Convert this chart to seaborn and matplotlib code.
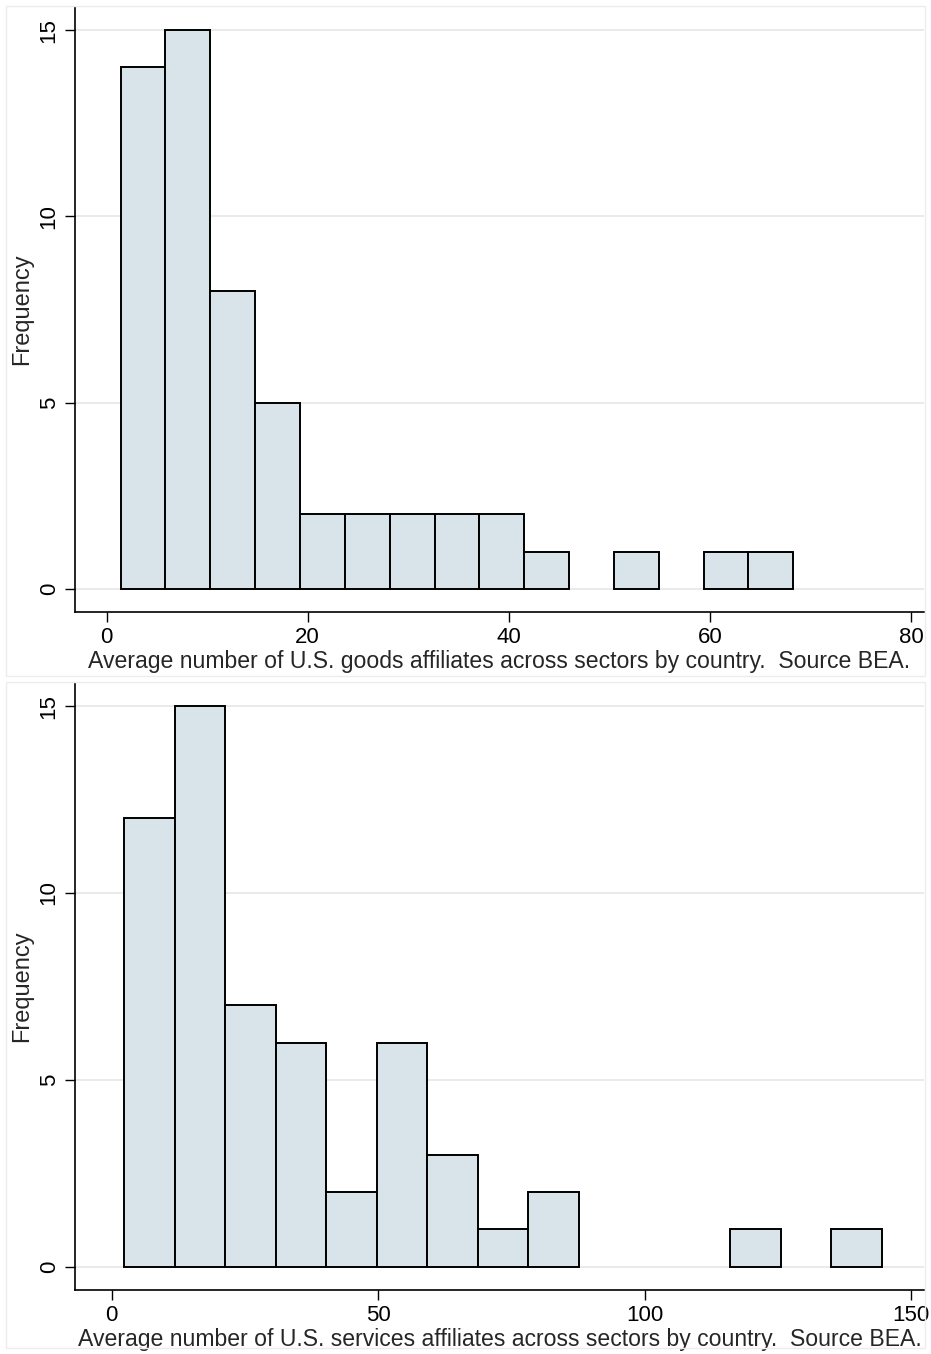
import numpy as np
import pandas as pd
import matplotlib
matplotlib.use("Agg")
import matplotlib.pyplot as plt
import seaborn as sns
from matplotlib.patches import Rectangle

# histogram data (15 bins each, n = 56)
goods_counts = [14, 15, 8, 5, 2, 2, 2, 2, 2, 1, 0, 1, 0, 1, 1]
goods_start, goods_end = 1.39, 68.3
services_counts = [12, 15, 7, 6, 2, 6, 3, 1, 2, 0, 0, 0, 1, 0, 1]
services_start, services_end = 2.31, 144.5

goods_ticks = [0, 20, 40, 60, 80]
services_ticks = [0, 50, 100, 150]
y_ticks = [0, 5, 10, 15]

goods_label = "Average number of U.S. goods affiliates across sectors by country.  Source BEA."
services_label = "Average number of U.S. services affiliates across sectors by country.  Source BEA."

sns.set_style("white")
plt.rcParams['font.family'] = ['Liberation Sans', 'DejaVu Sans']

fill_col = "#d8e4ea"
grid_col = "#e6e6e6"

fig = plt.figure(figsize=(9.31, 13.54), dpi=100)
W, H = 931, 1354


def panel(rect, counts, lo, hi, xticks, xlim, xlabel):
    ax = fig.add_axes(rect)
    edges = [float(e) for e in np.linspace(lo, hi, len(counts) + 1)]
    mids = [(edges[i] + edges[i + 1]) / 2 for i in range(len(counts))]
    df = pd.DataFrame({"x": mids, "n": counts})
    # draw gridlines first so bars sit on top
    for yv in y_ticks:
        ax.axhline(yv, color=grid_col, lw=1.2, zorder=0)
    sns.histplot(data=df, x="x", weights="n", bins=edges, ax=ax,
                 color=fill_col, alpha=1, edgecolor="black", linewidth=1.4, zorder=2)
    # empty bins: no outline
    for p in ax.patches:
        if p.get_height() == 0:
            p.set_visible(False)
    ax.set_xlim(*xlim)
    ax.set_ylim(-0.62, 15.62)
    ax.set_xticks(xticks)
    ax.set_yticks(y_ticks)
    ax.set_yticklabels([str(v) for v in y_ticks], rotation=90, va="center")
    ax.tick_params(axis="both", direction="out", length=7, width=1.0, labelsize=16,
                   colors="black", pad=4)
    ax.tick_params(axis="both", left=True, bottom=True)
    for s in ["top", "right"]:
        ax.spines[s].set_visible(False)
    for s in ["left", "bottom"]:
        ax.spines[s].set_color("black")
        ax.spines[s].set_linewidth(1.2)
    ax.set_xlabel(xlabel, fontsize=16.6, labelpad=1)
    ax.set_ylabel("Frequency", fontsize=17, labelpad=4)
    ax.grid(False)
    return ax


# top panel: plot region x 75..924, y 7..612 (pixels)
panel([75 / W, 1 - 612 / H, (924 - 75) / W, (612 - 7) / H],
      goods_counts, goods_start, goods_end, goods_ticks, (-3.15, 81.3), goods_label)
# bottom panel: plot region x 75..924, y 683..1290
panel([75 / W, 1 - 1290 / H, (924 - 75) / W, (1290 - 683) / H],
      services_counts, services_start, services_end, services_ticks, (-6.9, 152.4), services_label)

# faint outer frames of the two graph regions
fig.patches.append(Rectangle((6 / W, 1 - 676 / H), 919 / W, 670 / H, transform=fig.transFigure,
                             fill=False, edgecolor="#ececec", lw=1))
fig.patches.append(Rectangle((6 / W, 1 - 1348 / H), 919 / W, 666 / H, transform=fig.transFigure,
                             fill=False, edgecolor="#ececec", lw=1))

fig.savefig("out.png", dpi=100, facecolor="white")
